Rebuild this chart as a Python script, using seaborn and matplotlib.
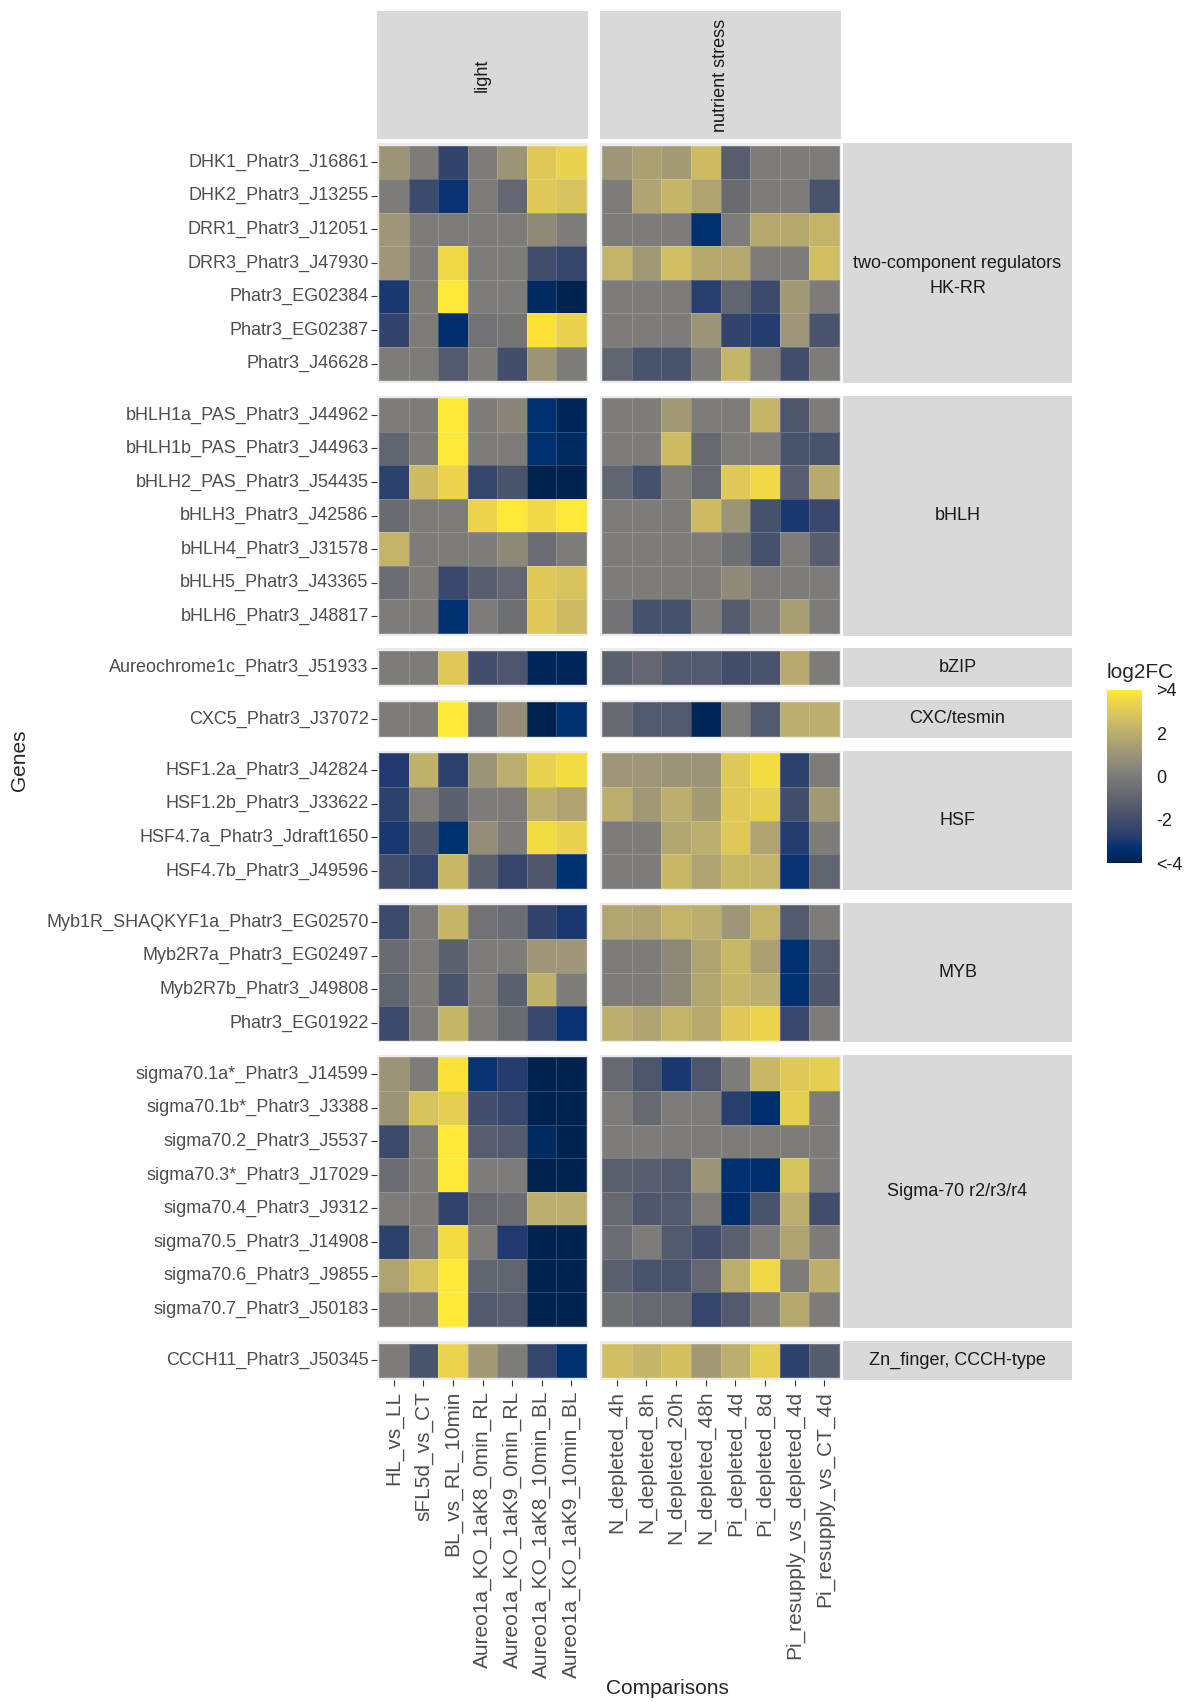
import numpy as np
import pandas as pd
import seaborn as sns
import matplotlib.pyplot as plt
import matplotlib
from matplotlib.colors import Normalize
from matplotlib.cm import ScalarMappable

sns.set_style('white')
plt.rcParams['font.family'] = ['Liberation Sans', 'DejaVu Sans']

light_cols = ['HL_vs_LL', 'sFL5d_vs_CT', 'BL_vs_RL_10min', 'Aureo1a_KO_1aK8_0min_RL',
              'Aureo1a_KO_1aK9_0min_RL', 'Aureo1a_KO_1aK8_10min_BL', 'Aureo1a_KO_1aK9_10min_BL']
nutrient_cols = ['N_depleted_4h', 'N_depleted_8h', 'N_depleted_20h', 'N_depleted_48h',
                 'Pi_depleted_4d', 'Pi_depleted_8d', 'Pi_resupply_vs_depleted_4d', 'Pi_resupply_vs_CT_4d']

group_names = ['two-component regulators\nHK-RR', 'bHLH', 'bZIP', 'CXC/tesmin', 'HSF', 'MYB',
               'Sigma-70 r2/r3/r4', 'Zn_finger, CCCH-type']
group_sizes = [7, 7, 1, 1, 4, 4, 8, 1]

genes = ['DHK1_Phatr3_J16861', 'DHK2_Phatr3_J13255', 'DRR1_Phatr3_J12051', 'DRR3_Phatr3_J47930',
         'Phatr3_EG02384', 'Phatr3_EG02387', 'Phatr3_J46628',
         'bHLH1a_PAS_Phatr3_J44962', 'bHLH1b_PAS_Phatr3_J44963', 'bHLH2_PAS_Phatr3_J54435',
         'bHLH3_Phatr3_J42586', 'bHLH4_Phatr3_J31578', 'bHLH5_Phatr3_J43365', 'bHLH6_Phatr3_J48817',
         'Aureochrome1c_Phatr3_J51933',
         'CXC5_Phatr3_J37072',
         'HSF1.2a_Phatr3_J42824', 'HSF1.2b_Phatr3_J33622', 'HSF4.7a_Phatr3_Jdraft1650', 'HSF4.7b_Phatr3_J49596',
         'Myb1R_SHAQKYF1a_Phatr3_EG02570', 'Myb2R7a_Phatr3_EG02497', 'Myb2R7b_Phatr3_J49808', 'Phatr3_EG01922',
         'sigma70.1a*_Phatr3_J14599', 'sigma70.1b*_Phatr3_J3388', 'sigma70.2_Phatr3_J5537',
         'sigma70.3*_Phatr3_J17029', 'sigma70.4_Phatr3_J9312', 'sigma70.5_Phatr3_J14908',
         'sigma70.6_Phatr3_J9855', 'sigma70.7_Phatr3_J50183',
         'CCCH11_Phatr3_J50345']

light_fc = [
    [1.0, 0, -2.5, 0, 1.0, 3.0, 3.3],
    [0, -2.2, -3.2, 0, -0.9, 3.0, 2.8],
    [1.1, 0, 0, 0, 0, 0.6, 0],
    [1.1, 0, 3.5, 0, 0, -2.0, -2.4],
    [-3.0, 0, 4.0, 0, 0, -3.6, -4.0],
    [-2.5, 0, -3.5, -0.4, -0.3, 3.8, 3.3],
    [0, 0, -1.5, 0, -2.0, 1.0, 0],
    [0, 0, 4.0, 0, 0.4, -3.4, -3.8],
    [-1.0, 0, 4.0, 0, 0, -3.4, -3.6],
    [-2.6, 2.5, 3.4, -2.4, -1.8, -4.0, -4.0],
    [-0.7, 0, 0, 3.4, 4.0, 3.5, 4.2],
    [2.2, 0, 0, 0, 0.5, -0.6, 0],
    [-0.6, 0, -2.3, -1.3, -0.9, 3.0, 2.8],
    [0, 0, -3.3, 0, -0.5, 3.0, 2.5],
    [0, 0, 3.0, -2.0, -1.7, -3.8, -3.8],
    [0, 0, 4.0, -0.7, 0.8, -4.0, -3.4],
    [-2.9, 2.1, -2.6, 1.0, 2.0, 3.3, 3.6],
    [-2.6, 0, -1.2, 0, 0, 2.0, 1.6],
    [-3.0, -1.6, -3.4, 0.7, 0, 3.6, 3.3],
    [-2.0, -2.4, 2.4, -1.2, -2.4, -1.6, -3.3],
    [-2.2, 0, 2.3, -0.4, -0.6, -2.5, -3.0],
    [-0.7, 0, -1.2, 0, 0, 1.1, 1.1],
    [-1.0, 0, -1.8, 0, -1.2, 2.1, 0],
    [-2.2, 0, 2.3, 0, -0.7, -2.3, -3.2],
    [1.0, 0, 3.8, -3.2, -2.8, -4.0, -4.0],
    [1.0, 2.8, 3.2, -2.0, -2.3, -4.0, -4.0],
    [-2.2, 0, 4.0, -1.3, -1.5, -3.6, -4.0],
    [-0.6, 0, 4.1, 0, 0, -4.0, -4.0],
    [0, 0, -2.5, -0.8, -0.6, 2.0, 2.0],
    [-2.6, 0, 3.6, 0, -2.9, -4.0, -4.0],
    [1.6, 2.8, 4.1, -1.0, -1.0, -4.0, -4.0],
    [0, 0, 4.1, -1.5, -1.3, -4.0, -4.0],
    [0, -1.8, 3.4, 1.2, 0, -2.4, -3.4],
]

nutrient_fc = [
    [1.1, 1.5, 1.3, 2.5, -1.3, 0, 0, 0],
    [0, 1.6, 2.3, 1.6, -0.7, 0, 0, -1.8],
    [0, 0, 0, -3.4, 0, 1.8, 1.8, 2.2],
    [2.2, 1.2, 2.6, 1.8, 1.8, 0, 0, 2.6],
    [0, 0, 0, -2.7, -1.0, -2.2, 1.2, 0],
    [0, 0, 0, 1.0, -2.5, -2.8, 1.1, -1.8],
    [-1.0, -1.8, -1.8, 0, 2.3, 0, -2.0, 0],
    [0, 0, 1.2, 0, 0, 2.3, -1.7, 0],
    [0, 0, 2.5, -0.8, 0, 0, -1.8, -1.8],
    [-1.0, -1.9, 0, -0.8, 3.0, 3.5, -1.3, 1.9],
    [0, 0, 0, 2.5, 1.0, -1.9, -3.0, -2.3],
    [0, 0, 0, 0, -0.5, -1.9, 0, -1.3],
    [0, 0, 0, 0, 0.6, 0, 0, 0],
    [-0.4, -1.9, -1.9, 0, -1.4, 0, 1.4, 0],
    [-1.2, -0.9, -1.5, -1.5, -2.0, -1.8, 1.9, 0],
    [-0.8, -1.5, -1.5, -3.8, 0, -1.5, 2.0, 2.0],
    [1.1, 1.1, 1.0, 1.0, 3.0, 3.6, -2.6, 0],
    [2.0, 1.2, 2.0, 1.3, 3.0, 3.2, -2.0, 1.2],
    [0, 0, 1.7, 2.0, 3.0, 1.6, -2.8, 0],
    [0, 0, 2.4, 1.6, 2.4, 2.2, -3.2, -1.0],
    [1.7, 1.6, 2.2, 2.0, 1.1, 2.2, -1.5, 0],
    [0, 0, 0.5, 1.6, 2.4, 1.5, -3.4, -1.5],
    [0, 0, 0.5, 1.7, 2.3, 2.0, -3.4, -1.6],
    [2.0, 1.6, 2.2, 1.9, 3.0, 3.4, -2.3, 0],
    [-0.8, -1.7, -3.0, -1.7, 0, 2.4, 3.0, 3.2],
    [0, -0.8, 0, 0, -2.7, -3.5, 3.2, 0],
    [0, 0, 0, 0, 0, 0, 0, 0],
    [-1.2, -1.3, -1.5, 1.0, -3.4, -3.5, 2.8, 0],
    [-0.8, -1.6, -1.5, 0, -3.5, -1.8, 2.0, -2.0],
    [-0.6, 0, -1.5, -2.0, -1.2, 0, 1.6, 0],
    [-1.2, -1.8, -1.8, -0.9, 2.0, 3.5, 0, 2.0],
    [-0.5, -0.8, -0.8, -2.4, -1.5, 0, 1.8, 0],
    [2.6, 2.3, 2.7, 1.2, 2.0, 3.2, -2.6, -1.4],
]

facets = ['light', 'nutrient stress']

W, H = 1184, 1702
fig = plt.figure(figsize=(W / 100, H / 100), dpi=100)

def box(x0, y0, x1, y1):
    return [x0 / W, 1 - y1 / H, (x1 - x0) / W, (y1 - y0) / H]

light_df = pd.DataFrame(light_fc, index=genes, columns=light_cols)
nutr_df = pd.DataFrame(nutrient_fc, index=genes, columns=nutrient_cols)
frames = [light_df, nutr_df]

# panel layout (pixels)
px_x = [(377, 588), (600, 841)]
strip_x = (843, 1072)
top0, cell_h, mg, gap = 143, 33.55, 2.5, 12.8
mgx = 2.0
tick_col = '#4D4D4D'
strip_col = '#D9D9D9'

y = top0
start = 0
n_groups = len(group_sizes)
for gi, n in enumerate(group_sizes):
    y1 = y + n * cell_h + 2 * mg
    rows = genes[start:start + n]
    last = gi == n_groups - 1
    for fi, (x0, x1) in enumerate(px_x):
        ax = fig.add_axes(box(x0, y, x1, y1))
        ax.set_facecolor('#EBEBEB')
        sub = frames[fi].loc[rows]
        ncol = sub.shape[1]
        sns.heatmap(sub, ax=ax, cmap='cividis', vmin=-4, vmax=4, cbar=False,
                    linewidths=0.5, linecolor=(1, 1, 1, 0.18),
                    xticklabels=last, yticklabels=(fi == 0))
        wcell = (x1 - x0 - 2 * mgx) / ncol
        ax.set_xlim(-mgx / wcell, ncol + mgx / wcell)
        ax.set_ylim(n + mg / cell_h, -mg / cell_h)
        ax.set_xlabel('')
        ax.set_ylabel('')
        for s in ax.spines.values():
            s.set_visible(False)
        ax.tick_params(axis='both', length=4, width=0.8, color='#333333',
                       labelsize=13, labelcolor=tick_col)
        ax.tick_params(axis='y', pad=2, left=(fi == 0))
        ax.tick_params(axis='x', pad=4, bottom=last, labelsize=15)
        if fi == 0:
            ax.set_yticklabels(rows, rotation=0)
        if last:
            ax.set_xticklabels(frames[fi].columns, rotation=90)
    # right strip
    sax = fig.add_axes(box(strip_x[0], y, strip_x[1], y1))
    sax.set_facecolor(strip_col)
    sax.set_xticks([])
    sax.set_yticks([])
    for s in sax.spines.values():
        s.set_visible(False)
    label = group_names[gi]
    yc = 0.5
    if '\n' in label:
        yc = 0.5 - 13 / (y1 - y)
    sax.text(0.5, yc, label, ha='center', va='center', fontsize=13,
             color='#1A1A1A', linespacing=1.6, transform=sax.transAxes)
    start += n
    y = y1 + gap

# top strips
for fi, (x0, x1) in enumerate(px_x):
    tax = fig.add_axes(box(x0, 11, x1, 139))
    tax.set_facecolor(strip_col)
    tax.set_xticks([])
    tax.set_yticks([])
    for s in tax.spines.values():
        s.set_visible(False)
    tax.text(0.5, 0.5, facets[fi], rotation=90, ha='center', va='center', fontsize=13,
             color='#1A1A1A', transform=tax.transAxes)

# axis titles
fig.text(20 / W, 1 - 760 / H, 'Genes', rotation=90, ha='center', va='center', fontsize=15)
fig.text(667 / W, 1 - 1688 / H, 'Comparisons', ha='center', va='center', fontsize=15)

# colour bar legend
cax = fig.add_axes(box(1107, 690, 1142, 863))
cb = fig.colorbar(ScalarMappable(norm=Normalize(-4, 4), cmap='cividis'), cax=cax)
cb.outline.set_visible(False)
cb.set_ticks([-4, -2, 0, 2, 4])
cb.set_ticklabels(['<-4', '-2', '0', '2', '>4'])
cax.tick_params(axis='y', direction='in', length=6, width=0.8, color='white',
                left=True, right=True, labelsize=13, labelcolor='#1A1A1A', pad=10)
fig.text(1107 / W, 1 - 672 / H, 'log2FC', ha='left', va='center', fontsize=15)

plt.savefig('out.png', dpi=100)
